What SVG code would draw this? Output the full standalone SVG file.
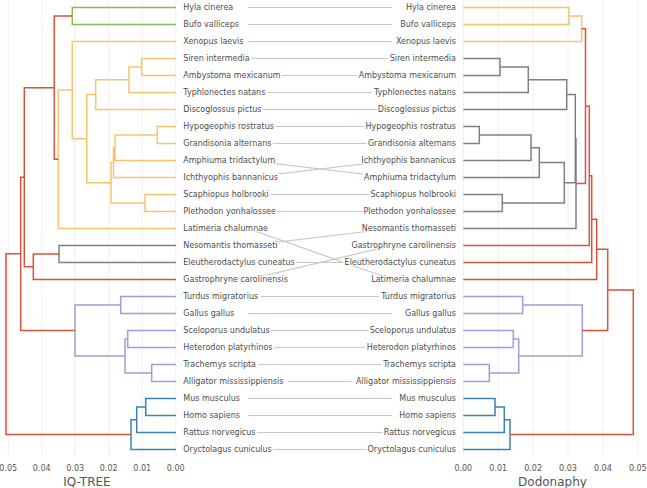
<svg xmlns="http://www.w3.org/2000/svg" width="647" height="488" viewBox="0 0 647 488">
<style>
.grid{stroke:#ececec;stroke-width:0.8;fill:none}
.t{fill:none;stroke-width:1.5;stroke-linejoin:miter}
.red{stroke:#d6533d}.yel{stroke:#f5c46e}.grn{stroke:#8bb85c}.gry{stroke:#808080}.pur{stroke:#a49cda}.blu{stroke:#3a83b2}
.con line{stroke:#c8c8c8;stroke-width:1.2}
.bg{fill:#ffffff}
.lab{font-family:"DejaVu Sans",sans-serif;font-size:8px;fill:#4d4d4d}
.r{text-anchor:end}
.tick{font-family:"DejaVu Sans",sans-serif;font-size:8px;fill:#555555;text-anchor:middle}
.ttl{font-family:"DejaVu Sans",sans-serif;font-size:12px;fill:#555555;text-anchor:middle}
</style>
<rect width="647" height="488" fill="#ffffff"/>
<g id="gridlines">
<path class="grid" d="M8.2,0V458M41.7,0V458M75.2,0V458M108.7,0V458M142.2,0V458M175.7,0V458M463.3,0V458M498.2,0V458M533.1,0V458M568,0V458M602.9,0V458M637.8,0V458"/>
</g>
<g id="tree-left">
<path class="t grn" d="M176,7.5H72.3V24.5H176"/>
<path class="t yel" d="M176,58.5H141.7V75.5H176M141.7,67H129V92.5H176M129,79.75H95.7V109.5H176M176,126.5H157.3V143.5H176M157.3,135H115V160.5H176M115,147.75H113.5V177.5H176M176,194.5H145V211.5H176M113.5,162.6H111V203H145M95.7,94.6H86.7V182.8H111M176,41.5H72.3V138.7H86.7M72.3,90.1H58.3V228.5H176"/>
<path class="t gry" d="M176,245.5H59V262.5H176"/>
<path class="t pur" d="M176,296.5H120.7V313.5H176M176,330.5H127.7V347.5H176M176,364.5H151.7V381.5H176M127.7,339H125V373H151.7M120.7,305H75V356H125"/>
<path class="t blu" d="M176,398.5H145.7V415.5H176M145.7,407H136.7V432.5H176M136.7,419.75H131V449.5H176"/>
<path class="t red" d="M72.3,16H54.3V159.3H58.3M59,254H33.3V279.5H176M54.3,87.65H24.3V266.75H33.3M24.3,177.2H20.7V330.5H75M20.7,253.85H6V434.6H131"/>
</g>
<g id="tree-right">
<path class="t yel" d="M463.3,7.5H569V24.5H463.3M569,16H581.7V41.5H463.3"/>
<path class="t gry" d="M463.3,58.5H500V75.5H463.3M500,67H528.3V92.5H463.3M528.3,79.75H566.7V109.5H463.3M463.3,126.5H479.3V143.5H463.3M479.3,135H531V160.5H463.3M531,147.75H539.3V177.5H463.3M463.3,194.5H502.3V211.5H463.3M539.3,162.6H564.3V203H502.3M566.7,94.6H575.3V182.8H564.3M575.3,138.7H576V228.5H463.3"/>
<path class="t pur" d="M463.3,296.5H522.7V313.5H463.3M463.3,330.5H513.3V347.5H463.3M463.3,364.5H489.3V381.5H463.3M513.3,339H518.7V373H489.3M522.7,305H582.3V356H518.7"/>
<path class="t blu" d="M463.3,398.5H495V415.5H463.3M495,407H504.3V432.5H463.3M504.3,419.75H510V449.5H463.3"/>
<path class="t red" d="M581.7,28.75H585.5V183.6H576M585.5,106.2H589.3V245.5H463.3M589.3,175.8H591.7V262.5H463.3M591.7,219.2H596.7V279.5H463.3M596.7,249.3H607.7V330.5H582.3M607.7,289.9H633.3V434.6H510"/>
</g>
<g id="connectors" class="con">
<line x1="248" y1="7.5" x2="392" y2="7.5"/>
<line x1="248" y1="24.5" x2="392" y2="24.5"/>
<line x1="248" y1="41.5" x2="392" y2="41.5"/>
<line x1="248" y1="58.5" x2="392" y2="58.5"/>
<line x1="248" y1="75.5" x2="392" y2="75.5"/>
<line x1="248" y1="92.5" x2="392" y2="92.5"/>
<line x1="248" y1="109.5" x2="392" y2="109.5"/>
<line x1="248" y1="126.5" x2="392" y2="126.5"/>
<line x1="248" y1="143.5" x2="392" y2="143.5"/>
<line x1="248" y1="160.5" x2="392" y2="177.5"/>
<line x1="248" y1="177.5" x2="392" y2="160.5"/>
<line x1="248" y1="194.5" x2="392" y2="194.5"/>
<line x1="248" y1="211.5" x2="392" y2="211.5"/>
<line x1="248" y1="228.5" x2="392" y2="279.5"/>
<line x1="248" y1="245.5" x2="392" y2="228.5"/>
<line x1="248" y1="262.5" x2="392" y2="262.5"/>
<line x1="248" y1="279.5" x2="392" y2="245.5"/>
<line x1="248" y1="296.5" x2="392" y2="296.5"/>
<line x1="248" y1="313.5" x2="392" y2="313.5"/>
<line x1="248" y1="330.5" x2="392" y2="330.5"/>
<line x1="248" y1="347.5" x2="392" y2="347.5"/>
<line x1="248" y1="364.5" x2="392" y2="364.5"/>
<line x1="248" y1="381.5" x2="392" y2="381.5"/>
<line x1="248" y1="398.5" x2="392" y2="398.5"/>
<line x1="248" y1="415.5" x2="392" y2="415.5"/>
<line x1="248" y1="432.5" x2="392" y2="432.5"/>
<line x1="248" y1="449.5" x2="392" y2="449.5"/>
</g>
<g id="labels-left">
<g id="L-hyla"><rect class="bg" x="183" y="3.5" width="51.6" height="7"/><text class="lab" x="183.3" y="10.4">Hyla cinerea</text></g>
<g id="L-bufo"><rect class="bg" x="183" y="20.5" width="57.2" height="7"/><text class="lab" x="183.3" y="27.4">Bufo valliceps</text></g>
<g id="L-xenopus"><rect class="bg" x="183" y="37.5" width="61.9" height="7"/><text class="lab" x="183.3" y="44.4">Xenopus laevis</text></g>
<g id="L-siren"><rect class="bg" x="183" y="54.5" width="68.2" height="7"/><text class="lab" x="183.3" y="61.4">Siren intermedia</text></g>
<g id="L-ambystoma"><rect class="bg" x="183" y="71.5" width="98.9" height="7"/><text class="lab" x="183.3" y="78.4">Ambystoma mexicanum</text></g>
<g id="L-typhlonectes"><rect class="bg" x="183" y="88.5" width="84.8" height="7"/><text class="lab" x="183.3" y="95.4">Typhlonectes natans</text></g>
<g id="L-discoglossus"><rect class="bg" x="183" y="105.5" width="79.8" height="7"/><text class="lab" x="183.3" y="112.4">Discoglossus pictus</text></g>
<g id="L-hypogeophis"><rect class="bg" x="183" y="122.5" width="92.3" height="7"/><text class="lab" x="183.3" y="129.4">Hypogeophis rostratus</text></g>
<g id="L-grandisonia"><rect class="bg" x="183" y="139.5" width="89.8" height="7"/><text class="lab" x="183.3" y="146.4">Grandisonia alternans</text></g>
<g id="L-amphiuma"><rect class="bg" x="183" y="156.5" width="93.4" height="7"/><text class="lab" x="183.3" y="163.4">Amphiuma tridactylum</text></g>
<g id="L-ichthyophis"><rect class="bg" x="183" y="173.5" width="96.2" height="7"/><text class="lab" x="183.3" y="180.4">Ichthyophis bannanicus</text></g>
<g id="L-scaphiopus"><rect class="bg" x="183" y="190.5" width="87.2" height="7"/><text class="lab" x="183.3" y="197.4">Scaphiopus holbrooki</text></g>
<g id="L-plethodon"><rect class="bg" x="183" y="207.5" width="94.1" height="7"/><text class="lab" x="183.3" y="214.4">Plethodon yonhalossee</text></g>
<g id="L-latimeria"><rect class="bg" x="183" y="224.5" width="86.2" height="7"/><text class="lab" x="183.3" y="231.4">Latimeria chalumnae</text></g>
<g id="L-nesomantis"><rect class="bg" x="183" y="241.5" width="95.7" height="7"/><text class="lab" x="183.3" y="248.4">Nesomantis thomasseti</text></g>
<g id="L-eleutherodactylus"><rect class="bg" x="183" y="258.5" width="113.1" height="7"/><text class="lab" x="183.3" y="265.4">Eleutherodactylus cuneatus</text></g>
<g id="L-gastrophryne"><rect class="bg" x="183" y="275.5" width="106.4" height="7"/><text class="lab" x="183.3" y="282.4">Gastrophryne carolinensis</text></g>
<g id="L-turdus"><rect class="bg" x="183" y="292.5" width="77.7" height="7"/><text class="lab" x="183.3" y="299.4">Turdus migratorius</text></g>
<g id="L-gallus"><rect class="bg" x="183" y="309.5" width="53.6" height="7"/><text class="lab" x="183.3" y="316.4">Gallus gallus</text></g>
<g id="L-sceloporus"><rect class="bg" x="183" y="326.5" width="87.9" height="7"/><text class="lab" x="183.3" y="333.4">Sceloporus undulatus</text></g>
<g id="L-heterodon"><rect class="bg" x="183" y="343.5" width="91.1" height="7"/><text class="lab" x="183.3" y="350.4">Heterodon platyrhinos</text></g>
<g id="L-trachemys"><rect class="bg" x="183" y="360.5" width="75.4" height="7"/><text class="lab" x="183.3" y="367.4">Trachemys scripta</text></g>
<g id="L-alligator"><rect class="bg" x="183" y="377.5" width="105.4" height="7"/><text class="lab" x="183.3" y="384.4">Alligator mississippiensis</text></g>
<g id="L-mus"><rect class="bg" x="183" y="394.5" width="58.2" height="7"/><text class="lab" x="183.3" y="401.4">Mus musculus</text></g>
<g id="L-homo"><rect class="bg" x="183" y="411.5" width="58.2" height="7"/><text class="lab" x="183.3" y="418.4">Homo sapiens</text></g>
<g id="L-rattus"><rect class="bg" x="183" y="428.5" width="73.9" height="7"/><text class="lab" x="183.3" y="435.4">Rattus norvegicus</text></g>
<g id="L-oryctolagus"><rect class="bg" x="183" y="445.5" width="90" height="7"/><text class="lab" x="183.3" y="452.4">Oryctolagus cuniculus</text></g>
</g>
<g id="labels-right">
<g id="R-hyla"><rect class="bg" x="404.9" y="3.5" width="51.6" height="7"/><text class="lab r" x="456" y="10.4">Hyla cinerea</text></g>
<g id="R-bufo"><rect class="bg" x="399.3" y="20.5" width="57.2" height="7"/><text class="lab r" x="456" y="27.4">Bufo valliceps</text></g>
<g id="R-xenopus"><rect class="bg" x="394.6" y="37.5" width="61.9" height="7"/><text class="lab r" x="456" y="44.4">Xenopus laevis</text></g>
<g id="R-siren"><rect class="bg" x="388.3" y="54.5" width="68.2" height="7"/><text class="lab r" x="456" y="61.4">Siren intermedia</text></g>
<g id="R-ambystoma"><rect class="bg" x="357.6" y="71.5" width="98.9" height="7"/><text class="lab r" x="456" y="78.4">Ambystoma mexicanum</text></g>
<g id="R-typhlonectes"><rect class="bg" x="371.7" y="88.5" width="84.8" height="7"/><text class="lab r" x="456" y="95.4">Typhlonectes natans</text></g>
<g id="R-discoglossus"><rect class="bg" x="376.7" y="105.5" width="79.8" height="7"/><text class="lab r" x="456" y="112.4">Discoglossus pictus</text></g>
<g id="R-hypogeophis"><rect class="bg" x="364.2" y="122.5" width="92.3" height="7"/><text class="lab r" x="456" y="129.4">Hypogeophis rostratus</text></g>
<g id="R-grandisonia"><rect class="bg" x="366.7" y="139.5" width="89.8" height="7"/><text class="lab r" x="456" y="146.4">Grandisonia alternans</text></g>
<g id="R-ichthyophis"><rect class="bg" x="360.3" y="156.5" width="96.2" height="7"/><text class="lab r" x="456" y="163.4">Ichthyophis bannanicus</text></g>
<g id="R-amphiuma"><rect class="bg" x="363.1" y="173.5" width="93.4" height="7"/><text class="lab r" x="456" y="180.4">Amphiuma tridactylum</text></g>
<g id="R-scaphiopus"><rect class="bg" x="369.3" y="190.5" width="87.2" height="7"/><text class="lab r" x="456" y="197.4">Scaphiopus holbrooki</text></g>
<g id="R-plethodon"><rect class="bg" x="362.4" y="207.5" width="94.1" height="7"/><text class="lab r" x="456" y="214.4">Plethodon yonhalossee</text></g>
<g id="R-nesomantis"><rect class="bg" x="360.8" y="224.5" width="95.7" height="7"/><text class="lab r" x="456" y="231.4">Nesomantis thomasseti</text></g>
<g id="R-gastrophryne"><rect class="bg" x="350.1" y="241.5" width="106.4" height="7"/><text class="lab r" x="456" y="248.4">Gastrophryne carolinensis</text></g>
<g id="R-eleutherodactylus"><rect class="bg" x="343.4" y="258.5" width="113.1" height="7"/><text class="lab r" x="456" y="265.4">Eleutherodactylus cuneatus</text></g>
<g id="R-latimeria"><rect class="bg" x="370.3" y="275.5" width="86.2" height="7"/><text class="lab r" x="456" y="282.4">Latimeria chalumnae</text></g>
<g id="R-turdus"><rect class="bg" x="378.8" y="292.5" width="77.7" height="7"/><text class="lab r" x="456" y="299.4">Turdus migratorius</text></g>
<g id="R-gallus"><rect class="bg" x="402.9" y="309.5" width="53.6" height="7"/><text class="lab r" x="456" y="316.4">Gallus gallus</text></g>
<g id="R-sceloporus"><rect class="bg" x="368.6" y="326.5" width="87.9" height="7"/><text class="lab r" x="456" y="333.4">Sceloporus undulatus</text></g>
<g id="R-heterodon"><rect class="bg" x="365.4" y="343.5" width="91.1" height="7"/><text class="lab r" x="456" y="350.4">Heterodon platyrhinos</text></g>
<g id="R-trachemys"><rect class="bg" x="381.1" y="360.5" width="75.4" height="7"/><text class="lab r" x="456" y="367.4">Trachemys scripta</text></g>
<g id="R-alligator"><rect class="bg" x="351.1" y="377.5" width="105.4" height="7"/><text class="lab r" x="456" y="384.4">Alligator mississippiensis</text></g>
<g id="R-mus"><rect class="bg" x="398.3" y="394.5" width="58.2" height="7"/><text class="lab r" x="456" y="401.4">Mus musculus</text></g>
<g id="R-homo"><rect class="bg" x="398.3" y="411.5" width="58.2" height="7"/><text class="lab r" x="456" y="418.4">Homo sapiens</text></g>
<g id="R-rattus"><rect class="bg" x="382.6" y="428.5" width="73.9" height="7"/><text class="lab r" x="456" y="435.4">Rattus norvegicus</text></g>
<g id="R-oryctolagus"><rect class="bg" x="366.5" y="445.5" width="90" height="7"/><text class="lab r" x="456" y="452.4">Oryctolagus cuniculus</text></g>
</g>
<g id="axis-left">
<text class="tick" x="8.2" y="470.5">0.05</text>
<text class="tick" x="41.7" y="470.5">0.04</text>
<text class="tick" x="75.2" y="470.5">0.03</text>
<text class="tick" x="108.7" y="470.5">0.02</text>
<text class="tick" x="142.2" y="470.5">0.01</text>
<text class="tick" x="175.7" y="470.5">0.00</text>
<text class="ttl" x="87" y="485.5">IQ-TREE</text>
</g>
<g id="axis-right">
<text class="tick" x="463.3" y="470.5">0.00</text>
<text class="tick" x="498.2" y="470.5">0.01</text>
<text class="tick" x="533.1" y="470.5">0.02</text>
<text class="tick" x="568" y="470.5">0.03</text>
<text class="tick" x="602.9" y="470.5">0.04</text>
<text class="tick" x="637.8" y="470.5">0.05</text>
<text class="ttl" x="552.5" y="485.5">Dodonaphy</text>
</g>
</svg>
